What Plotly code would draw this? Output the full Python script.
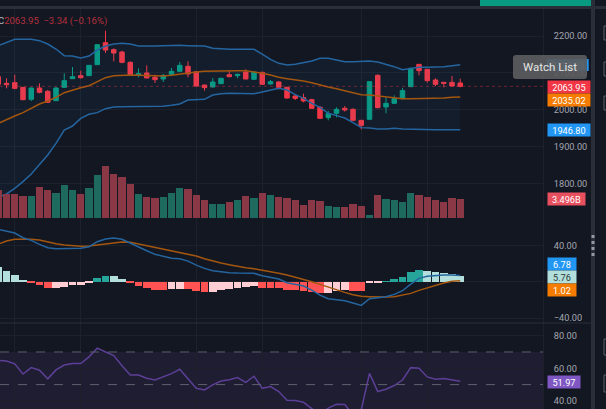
import plotly.graph_objects as go
from plotly.subplots import make_subplots

# one bar per entry, the first one sits half outside the left edge
bars = list(range(-1, 56))

opens = [2090.1, 2072, 2073.9, 2061.2, 2028.8, 2059.4, 2050.4, 2025.2, 2061.2, 2084.7, 2092.8, 2092.8, 2122.5, 2182, 2163.1, 2156.7, 2128.8, 2094.6, 2100, 2088.3, 2083.8, 2096.4, 2104.5, 2118, 2103.6, 2067.5, 2062.1, 2071.1, 2095.5, 2092.8, 2102.7, 2082.9, 2101.8, 2070.3, 2075.7, 2061.2, 2037.8, 2033.3, 2027.9, 2007.2, 1979.3, 1991, 2004.5, 2001.8, 1972, 1974.7, 2093.7, 2008.1, 2018, 2030.6, 2063, 2123.4, 2109.9, 2081.1, 2074.8, 2074.8, 2073]
highs = [2094.6, 2085.6, 2095.5, 2062, 2061.2, 2072, 2054, 2061.2, 2099.1, 2116.2, 2106.3, 2121.6, 2177.5, 2214.4, 2166.7, 2160.3, 2131.5, 2112.6, 2120.7, 2095.5, 2097.3, 2113.5, 2129.7, 2131.5, 2104.5, 2068, 2086.5, 2087.4, 2108.1, 2098.2, 2109.9, 2104.5, 2103.6, 2081.1, 2078.4, 2063, 2042.3, 2044.1, 2030.6, 2010.8, 1997.3, 2007.2, 2010.8, 2004.5, 1973, 2078.4, 2096.4, 2034.2, 2039.6, 2059.4, 2114.4, 2124.3, 2110.8, 2085.6, 2075.7, 2091.9, 2084.7]
lows = [2066.6, 2058.5, 2055.8, 2026.1, 2024.3, 2045, 2018.9, 2024.3, 2060.5, 2083.8, 2084.7, 2091.9, 2121.6, 2154, 2131.5, 2126.1, 2094.6, 2088.3, 2085.6, 2073, 2075.7, 2095.5, 2103.6, 2088.3, 2064, 2052.2, 2061.5, 2070.3, 2088.3, 2085.6, 2082.9, 2082.5, 2068.4, 2068.4, 2055.8, 2030.6, 2027, 2020.7, 2002.7, 1976.5, 1972, 1980.1, 1995.5, 1970.3, 1947.7, 1974, 2004.5, 1991, 2016.2, 2028.8, 2062, 2093.7, 2073.9, 2064.8, 2061.2, 2064, 2061.2]
closes = [2069.3, 2068.4, 2058.5, 2027.9, 2059.4, 2047.7, 2020.7, 2059.4, 2079.3, 2090.1, 2087.4, 2120.7, 2176.6, 2162.1, 2154, 2128.8, 2095.5, 2098.2, 2086.5, 2082, 2093.7, 2104.5, 2120.7, 2097.3, 2064.8, 2060.3, 2075.7, 2085.6, 2090.1, 2096.4, 2083.8, 2102.7, 2069.3, 2076.6, 2061.2, 2032.4, 2031.5, 2024.3, 2004.5, 1977.4, 1990.1, 2001.8, 2000, 1972, 1958.5, 2076.6, 2006.3, 2018, 2030.6, 2052.3, 2112.6, 2106.3, 2079.3, 2069.3, 2072, 2064.8, 2063.95]
volumes = [5.15, 4.35, 4.47, 4.05, 4.05, 5.64, 5.15, 4.6, 6.01, 5.15, 4.35, 5.46, 7.97, 9.62, 8.09, 7.54, 6.31, 4.35, 3.92, 3.74, 3.92, 4.6, 5.46, 5.33, 4.23, 3.25, 2.51, 2.64, 2.94, 3.25, 4.05, 3.68, 4.66, 4.17, 3.92, 3.74, 3.25, 2.33, 3.25, 3.13, 2.15, 1.96, 2.08, 2.64, 2.15, 0.61, 4.17, 3.49, 3.25, 2.94, 4.6, 4.17, 3.92, 3.37, 2.94, 3.68, 3.496]

bb_upper = [2173.9, 2182, 2191, 2191, 2191, 2187.4, 2178.4, 2164.8, 2146.8, 2145.9, 2140.5, 2145.9, 2162.1, 2173, 2178.4, 2180.2, 2178.4, 2173, 2172.1, 2173, 2173.9, 2174.8, 2174.8, 2173.9, 2173.9, 2173, 2166.7, 2164.8, 2164, 2164, 2164, 2164, 2151.3, 2136.9, 2126.1, 2121.6, 2123.4, 2127, 2132.4, 2139.6, 2139.6, 2135.1, 2130.6, 2130.6, 2131.5, 2132.4, 2129.7, 2124.3, 2117.1, 2109, 2112.6, 2115.3, 2115.3, 2115.3, 2117.1, 2119.8, 2122.5]
bb_basis = [1963.9, 1974.7, 1983.8, 1992.8, 2004.5, 2016.2, 2024.3, 2034.2, 2046.8, 2054, 2060.3, 2065.7, 2076.6, 2087.4, 2092.8, 2094.6, 2094.6, 2093.7, 2092.8, 2091.9, 2091.9, 2093.7, 2097.3, 2100.9, 2102.7, 2104.5, 2105.4, 2106.3, 2106.3, 2106.3, 2106.3, 2103.6, 2099.1, 2094.6, 2088.3, 2084.7, 2082, 2078.4, 2073.8, 2067.5, 2062.1, 2057.6, 2052.2, 2045.9, 2041.4, 2040.5, 2037.8, 2034.2, 2031.5, 2030.6, 2030.6, 2030.6, 2031.5, 2031.5, 2032.4, 2034.2, 2035.02]
bb_lower = [1763.9, 1772.9, 1788.2, 1806.3, 1827, 1851.3, 1878.3, 1909.9, 1945.9, 1956.7, 1977.4, 1988.3, 1992.8, 2003.6, 2008.1, 2009, 2009, 2009, 2009, 2009, 2009.9, 2012.6, 2016.2, 2027, 2028.8, 2028.8, 2040.5, 2044.1, 2045, 2045, 2044.1, 2044.1, 2048.6, 2053.1, 2058.5, 2054, 2041.4, 2031.5, 2018, 2007.2, 1991, 1984.7, 1978.3, 1965.7, 1952.3, 1951.3, 1948.6, 1948.6, 1950.4, 1948.6, 1947.7, 1946.8, 1946.8, 1946.8, 1946.8, 1946.8, 1946.8]

macd_line = [57.6, 55.7, 53.5, 48.4, 45.5, 41.1, 37.4, 36.3, 36.3, 36.7, 36.7, 38.5, 44, 46.9, 48, 46.6, 42.2, 38.5, 34.1, 30.1, 27.5, 25.7, 25.3, 22.7, 18.3, 14.7, 12.1, 10.6, 9.9, 9.5, 9.5, 9.2, 6.6, 5.1, 2.9, -1.1, -3.3, -4.8, -9.2, -14.7, -18.7, -19.8, -20.9, -23.5, -26, -18.7, -17.6, -16.5, -13.9, -9.9, -2.6, 3.7, 5.9, 7, 7.3, 7.3, 6.78]
macd_signal = [41.4, 44.7, 46.6, 46.9, 46.6, 45.8, 43.6, 41.8, 40.3, 39.6, 38.9, 39.2, 40.3, 41.8, 43.3, 43.6, 43.3, 41.4, 40, 38.1, 35.9, 34.1, 32.6, 30.4, 28.2, 25.3, 22.7, 20.5, 18.7, 16.9, 15.4, 14.3, 12.8, 11.4, 9.2, 7.3, 5.1, 2.9, 0, -2.9, -5.9, -9.2, -11.7, -14.3, -16.1, -16.5, -16.9, -16.9, -16.5, -15, -12.8, -9.5, -6.6, -4, -1.5, 0.4, 1.02]
macd_hist = [16.5, 11.4, 7, 1.8, -1.5, -3.7, -7, -6.9, -5.5, -3.3, -3.2, -1.5, 3.7, 5.9, 5.8, 2.9, -1.8, -4.4, -7, -8.8, -9.5, -8.1, -7.7, -7.8, -10.3, -11.4, -11.3, -9.5, -8.4, -7, -6.2, -5.1, -6.6, -6.7, -7, -8.8, -9, -10.6, -11.7, -12.8, -12.7, -10.3, -9.5, -10.3, -10.4, -1.8, -1.5, 0.4, 2.6, 4.8, 10.6, 13.2, 12.1, 10.6, 9.5, 8.1, 5.76]

rsi_line = [64.9, 64.5, 62.7, 56.5, 60.4, 58.8, 53.5, 59, 62, 62.9, 62.9, 67, 72.3, 70, 67.8, 61.6, 55.9, 55.9, 53.9, 52.8, 54.7, 56.7, 59.4, 53.5, 47.7, 46.7, 49.8, 52.2, 53, 54.3, 51.4, 55.1, 47.7, 48.8, 45.7, 40.4, 40.2, 39.1, 35.3, 31.4, 35.5, 37.9, 37.7, 31.4, 34.4, 56.9, 45.7, 47.1, 49.4, 52.8, 60.4, 60, 54.7, 53.3, 53.7, 52.8, 51.97]

price_ticks = [2200, 2100, 2000, 1900, 1800]
macd_ticks = [40, 0, -40]
macd_ticktext = ["40.00", "", "\u221240.00"]
rsi_ticks = [80, 60, 40]
time_ticks = [1, 9, 23, 31, 43, 51]

last_price = 2063.95
legend_text = "2063.95  \u22123.34 (\u22120.16%)"

W, H = 606, 409
BG = "#131722"
GRID = "#1d212c"
SEP = "#2a2e39"
UP = "#089981"
DOWN = "#f23645"
BB_LINE = "#25659f"
BASIS = "#a3560f"
RSI_COL = "#5c3f96"
TICK = "#a3a6af"


def paper_x(px):
    return px / W


def paper_y(px):
    return 1 - px / H


def ticks(vals):
    return ["%.2f" % v for v in vals]


def hist_colour(i):
    # same four shades tradingview uses: sign plus rising/falling
    v = macd_hist[i]
    prev = macd_hist[i - 1] if i > 0 else v + 1
    if v >= 0:
        return "#26a69a" if v > prev else "#b2dfdb"
    return "#ffcdd2" if v > prev else "#ff5252"


fig = make_subplots(rows=3, cols=1, shared_xaxes=True, vertical_spacing=0,
                    specs=[[{"secondary_y": True}], [{}], [{}]])

fig.add_trace(go.Scatter(x=bars, y=bb_upper, mode="lines", line=dict(color=BB_LINE, width=1.5)), row=1, col=1)
fig.add_trace(go.Scatter(x=bars, y=bb_lower, mode="lines", line=dict(color=BB_LINE, width=1.5),
                         fill="tonexty", fillcolor="rgba(33,150,243,0.05)"), row=1, col=1)
fig.add_trace(go.Scatter(x=bars, y=bb_basis, mode="lines", line=dict(color=BASIS, width=1.5)), row=1, col=1)
fig.add_trace(go.Candlestick(x=bars, open=opens, high=highs, low=lows, close=closes, whiskerwidth=0,
                             increasing=dict(line=dict(color=UP, width=1), fillcolor=UP),
                             decreasing=dict(line=dict(color=DOWN, width=1), fillcolor=DOWN)),
              row=1, col=1)

vol_colours = ["#1f6a5e" if c >= o else "#8a3845" for o, c in zip(opens, closes)]
fig.add_trace(go.Bar(x=bars, y=volumes, width=0.9, marker=dict(color=vol_colours, line_width=0)),
              row=1, col=1, secondary_y=True)

fig.add_trace(go.Bar(x=bars, y=macd_hist, width=0.92,
                     marker=dict(color=[hist_colour(i) for i in range(len(macd_hist))], line_width=0)),
              row=2, col=1)
fig.add_trace(go.Scatter(x=bars, y=macd_signal, mode="lines", line=dict(color=BASIS, width=1.5)), row=2, col=1)
fig.add_trace(go.Scatter(x=bars, y=macd_line, mode="lines", line=dict(color=BB_LINE, width=1.5)), row=2, col=1)

fig.add_trace(go.Scatter(x=bars, y=rsi_line, mode="lines", line=dict(color=RSI_COL, width=1.5)), row=3, col=1)

tick_font = dict(family="Roboto", size=9.2, color=TICK)
fig.update_xaxes(range=[-0.788, 65.03], domain=[0, 543 / W], tickvals=time_ticks, showticklabels=False,
                 showgrid=True, gridcolor=GRID, gridwidth=1, zeroline=False, showline=False, ticks="")
fig.update_xaxes(rangeslider_visible=False)
y_common = dict(side="right", showgrid=True, gridcolor=GRID, gridwidth=1, zeroline=False,
                ticks="", tickfont=tick_font, ticklabelstandoff=8, showline=True, linecolor=GRID, linewidth=1)

fig.update_yaxes(domain=[paper_y(218), paper_y(9)], range=[1708, 2273], tickvals=price_ticks,
                 ticktext=ticks(price_ticks), row=1, col=1, secondary_y=False, **y_common)
fig.update_yaxes(domain=[paper_y(218), paper_y(9)], range=[0, 38.46], visible=False, showgrid=False,
                 row=1, col=1, secondary_y=True)
fig.update_yaxes(domain=[paper_y(323), paper_y(218)], range=[-45.4, 70.08], tickvals=macd_ticks,
                 ticktext=macd_ticktext, row=2, col=1, **y_common)
fig.update_yaxes(domain=[0, paper_y(323)], range=[35.0, 87.8], tickvals=rsi_ticks,
                 ticktext=ticks(rsi_ticks), row=3, col=1, **y_common)

# chrome around the panes
fig.add_shape(type="rect", xref="paper", yref="paper", x0=0, x1=1, y0=paper_y(9), y1=paper_y(6),
              fillcolor=SEP, line_width=0)
fig.add_shape(type="rect", xref="paper", yref="paper", x0=paper_x(480), x1=paper_x(592), y0=paper_y(6), y1=1,
              fillcolor=UP, line_width=0)
fig.add_shape(type="rect", xref="paper", yref="paper", x0=paper_x(591), x1=paper_x(595), y0=0, y1=1,
              fillcolor=SEP, line_width=0)
fig.add_shape(type="line", xref="paper", yref="paper", x0=0, x1=paper_x(592), y0=paper_y(323), y1=paper_y(323),
              line=dict(color=SEP, width=1))
fig.add_shape(type="line", xref="paper", yref="paper", x0=paper_x(593), x1=paper_x(593), y0=paper_y(235),
              y1=paper_y(258), line=dict(color="#9598a1", width=3, dash="dot"))
# cut off toolbar icons at the right edge
for top, bottom in [(26, 40), (62, 76), (96, 110), (339, 355), (375, 392)]:
    fig.add_shape(type="rect", xref="paper", yref="paper", x0=paper_x(604), x1=paper_x(610), y0=paper_y(bottom),
                  y1=paper_y(top), line=dict(color="#5d606b", width=1))

# last price line and the rsi band
fig.add_hline(y=last_price, line=dict(color="rgba(242,54,69,0.4)", width=1, dash="dot"), row=1, col=1)
fig.add_shape(type="rect", xref="x3 domain", yref="y4", x0=0, x1=1, y0=30, y1=70,
              fillcolor="rgba(126,87,194,0.1)", line_width=0, layer="below")
for level in [70, 50]:
    fig.add_shape(type="line", xref="x3 domain", yref="y4", x0=0, x1=1, y0=level, y1=level,
                  line=dict(color="#5d606b", width=1, dash="dash"))

# tags on the axis: text, centre px, width, fill, text colour
tags = [
    ("2063.95", 87, 42, "#f23645", "#ffffff"),
    ("2035.02", 100, 42, "#f57c00", "#ffffff"),
    ("1946.80", 130, 42, "#2196f3", "#ffffff"),
    ("3.496B", 199, 37, "#e8505f", "#ffffff"),
    ("6.78", 263.5, 28, "#2196f3", "#ffffff"),
    ("5.76", 276.5, 28, "#b2dfdb", "#2e3a3a"),
    ("1.02", 289.5, 28, "#f57c00", "#ffffff"),
    ("51.97", 382, 32, "#7e57c2", "#ffffff"),
]
for text, centre, width, fill, colour in tags:
    fig.add_annotation(xref="paper", yref="paper", x=paper_x(546.7), y=paper_y(centre), xanchor="left",
                       yanchor="middle", text=text, width=width, height=12, borderpad=0, bgcolor=fill,
                       showarrow=False, font=dict(family="Roboto", size=9.2, color=colour))

# upper band tag, hidden under the watch list button
fig.add_shape(type="rect", xref="paper", yref="paper", x0=paper_x(546.7), x1=paper_x(588.7), y0=paper_y(71),
              y1=paper_y(59), fillcolor="#2196f3", line_width=0,
              label=dict(text="2122.23", font=dict(family="Roboto", size=9.2, color="#ffffff")))
fig.add_shape(type="path", xref="paper", yref="paper",
              path="M %f %f L %f %f Q %f %f %f %f L %f %f Q %f %f %f %f L %f %f Q %f %f %f %f L %f %f Q %f %f %f %f Z" % (
                  paper_x(516), paper_y(55), paper_x(584), paper_y(55), paper_x(587), paper_y(55), paper_x(587), paper_y(58),
                  paper_x(587), paper_y(76), paper_x(587), paper_y(79), paper_x(584), paper_y(79),
                  paper_x(516), paper_y(79), paper_x(513), paper_y(79), paper_x(513), paper_y(76),
                  paper_x(513), paper_y(58), paper_x(513), paper_y(55), paper_x(516), paper_y(55)),
              fillcolor="#5a5b5e", opacity=0.93, line_width=0)
fig.add_annotation(xref="paper", yref="paper", x=paper_x(550), y=paper_y(67), xanchor="center", yanchor="middle",
                   text="Watch List", showarrow=False, font=dict(family="Roboto", size=11.5, color="#e6e6e6"))

fig.add_annotation(xref="paper", yref="paper", x=0, y=paper_y(21), xanchor="left", yanchor="middle", xshift=-4,
                   text="<span style='color:#b2b5be'>C</span>" + legend_text, showarrow=False,
                   font=dict(family="Roboto", size=9.5, color="#b3303c"))

fig.update_layout(width=W, height=H, margin=dict(l=0, r=0, t=0, b=0), paper_bgcolor=BG, plot_bgcolor=BG,
                  showlegend=False, boxgap=0.22, bargap=0)

# the page's default body margin would push the chart off by 8px
fig.write_html("out.html", config=dict(displayModeBar=False),
               post_script="document.body.style.margin='0';document.body.style.background='" + BG + "';")
